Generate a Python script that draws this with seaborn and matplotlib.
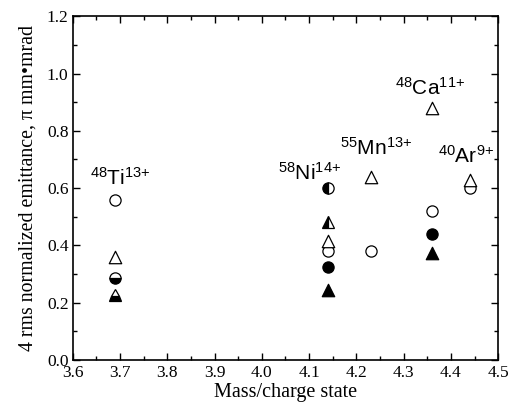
import matplotlib
matplotlib.use('Agg')
import matplotlib.pyplot as plt
import seaborn as sns
from matplotlib.ticker import MultipleLocator

# data
open_circle_x = [3.69, 4.14, 4.23, 4.36, 4.44]
open_circle_y = [0.56, 0.38, 0.38, 0.52, 0.60]
open_tri_x = [3.69, 4.14, 4.23, 4.36, 4.44]
open_tri_y = [0.36, 0.415, 0.64, 0.88, 0.63]
filled_circle_x = [4.14, 4.36]
filled_circle_y = [0.325, 0.44]
filled_tri_x = [4.14, 4.36]
filled_tri_y = [0.245, 0.375]
half_circle_x = [3.69, 4.14]
half_circle_y = [0.287, 0.60]
half_circle_fill = ['bottom', 'left']
half_tri_x = [3.69, 4.14]
half_tri_y = [0.228, 0.482]
half_tri_fill = ['bottom', 'left']

labels = [r'$^{48}$Ti$^{13{+}}$', r'$^{58}$Ni$^{14{+}}$', r'$^{55}$Mn$^{13{+}}$',
          r'$^{48}$Ca$^{11{+}}$', r'$^{40}$Ar$^{9{+}}$']
label_x = [3.70, 4.10, 4.241, 4.356, 4.432]
label_y = [0.61, 0.629, 0.716, 0.926, 0.688]

sns.set_theme(style="ticks")
plt.rcParams['font.family'] = ['Liberation Serif', 'DejaVu Serif']
plt.rcParams['mathtext.fontset'] = 'custom'
plt.rcParams['mathtext.rm'] = 'Liberation Sans'
plt.rcParams['mathtext.default'] = 'rm'

fig = plt.figure(figsize=(5.12, 4.18), dpi=100)
ax = fig.add_axes([0.142, 0.139, 0.831, 0.822])

sns.scatterplot(x=open_circle_x, y=open_circle_y, marker='o', s=65,
                facecolor='white', edgecolor='black', linewidth=0.9, ax=ax, zorder=3)
sns.scatterplot(x=open_tri_x, y=open_tri_y, marker='^', s=80,
                facecolor='white', edgecolor='black', linewidth=0.9, ax=ax, zorder=3)
sns.scatterplot(x=filled_circle_x, y=filled_circle_y, marker='o', s=65,
                color='black', edgecolor='black', linewidth=0.9, ax=ax, zorder=3)
sns.scatterplot(x=filled_tri_x, y=filled_tri_y, marker='^', s=80,
                color='black', edgecolor='black', linewidth=0.9, ax=ax, zorder=3)

for x, y, fs in zip(half_circle_x, half_circle_y, half_circle_fill):
    ax.plot([x], [y], marker='o', ms=8.1, fillstyle=fs, color='black',
            markerfacecoloralt='white', mec='black', mew=0.9, ls='none', zorder=3)
for x, y, fs in zip(half_tri_x, half_tri_y, half_tri_fill):
    ax.plot([x], [y], marker='^', ms=8.8, fillstyle=fs, color='black',
            markerfacecoloralt='white', mec='black', mew=0.9, ls='none', zorder=3)

for t, x, y in zip(labels, label_x, label_y):
    ax.text(x, y, t, ha='center', va='baseline', fontsize=15,
            family='Liberation Sans', color='black')

ax.set_xlim(3.6, 4.5)
ax.set_ylim(0, 1.2)
ax.xaxis.set_major_locator(MultipleLocator(0.1))
ax.xaxis.set_minor_locator(MultipleLocator(0.05))
ax.yaxis.set_major_locator(MultipleLocator(0.2))
ax.yaxis.set_minor_locator(MultipleLocator(0.1))
ax.xaxis.set_major_formatter(matplotlib.ticker.FormatStrFormatter('%.1f'))
ax.yaxis.set_major_formatter(matplotlib.ticker.FormatStrFormatter('%.1f'))
ax.tick_params(which='both', direction='in', top=True, right=True,
               colors='black', labelsize=12.5, width=1.0)
ax.tick_params(which='major', length=5)
ax.tick_params(axis='x', which='major', pad=4)
ax.tick_params(axis='y', which='major', pad=3)
ax.tick_params(which='minor', length=3)
for sp in ax.spines.values():
    sp.set_linewidth(1.2)
    sp.set_color('black')

ax.set_xlabel('Mass/charge state', fontsize=14.5, labelpad=1, color='black')
ax.set_ylabel('4 rms normalized emittance, π mm•mrad', fontsize=14.3,
              labelpad=7, color='black')

fig.savefig('out.png', dpi=100)
